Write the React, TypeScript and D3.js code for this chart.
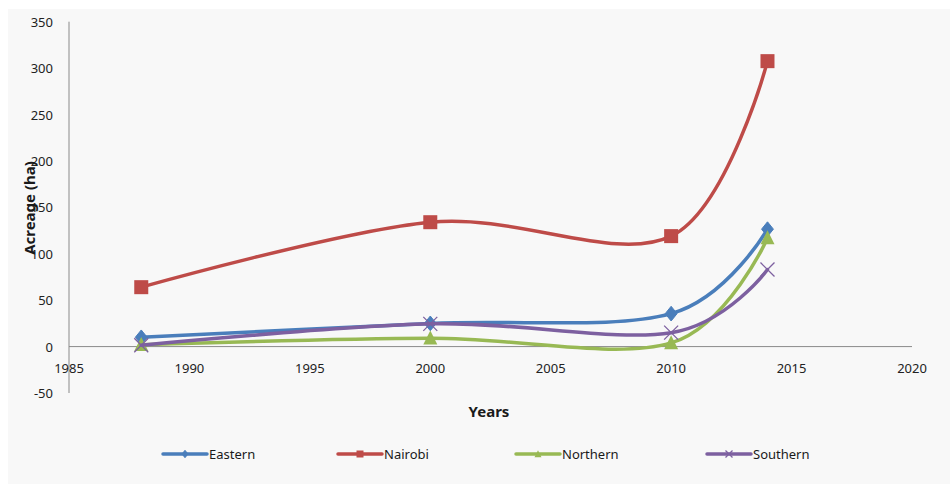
import React from "react";
import * as d3 from "d3";

// Acreage (ha) by region across survey years
const years = [1988, 2000, 2010, 2014];
const eastern = [10, 25, 35.5, 126.5];
const nairobi = [64, 134, 119, 307.5];
const northern = [2, 9, 4, 117];
const southern = [1.5, 24.5, 15, 83];

const seriesNames = ["Eastern", "Nairobi", "Northern", "Southern"];
const seriesColors = ["#4a7ebb", "#be4b48", "#98b954", "#7d60a0"];
const seriesMarkers = ["diamond", "square", "triangle", "cross"];
const seriesValues = [eastern, nairobi, northern, southern];

const yTicks = [-50, 0, 50, 100, 150, 200, 250, 300, 350];
const xTicks = [1985, 1990, 1995, 2000, 2005, 2010, 2015, 2020];

const W = 950;
const H = 484;
const FONT = "'Noto Sans', 'DejaVu Sans', sans-serif";

const x = d3.scaleLinear().domain([1985, 2020]).range([69, 912]);
const y = d3.scaleLinear().domain([-50, 350]).range([393, 21.7]);

const line = d3
  .line<[number, number]>()
  .x((d) => x(d[0]))
  .y((d) => y(d[1]))
  .curve(d3.curveCardinal.tension(0));

function Marker({ kind, cx, cy, color, s }: { kind: string; cx: number; cy: number; color: string; s: number }) {
  const h = s / 2;
  if (kind === "diamond") {
    return (
      <path
        d={`M${cx},${cy - h * 1.05} L${cx + h * 0.85},${cy} L${cx},${cy + h * 1.05} L${cx - h * 0.85},${cy} Z`}
        fill={color}
        stroke={color}
        strokeWidth={1}
      />
    );
  }
  if (kind === "square") {
    return <rect x={cx - h} y={cy - h} width={s} height={s} fill={color} />;
  }
  if (kind === "triangle") {
    return (
      <path
        d={`M${cx},${cy - h * 1.1} L${cx + h},${cy + h * 0.9} L${cx - h},${cy + h * 0.9} Z`}
        fill={color}
      />
    );
  }
  return (
    <path
      d={`M${cx - h},${cy - h} L${cx + h},${cy + h} M${cx + h},${cy - h} L${cx - h},${cy + h}`}
      stroke={color}
      strokeWidth={1.3}
      fill="none"
    />
  );
}

const legendX = [163, 338, 516, 707];
const legendY = 454;

export default function App() {
  return (
    <svg
      width={W}
      height={H}
      style={{ position: "absolute", left: 0, top: 0, display: "block" }}
      fontFamily={FONT}
    >
      <rect x={0} y={0} width={W} height={H} fill="#ffffff" />
      <rect x={8} y={9} width={W - 8} height={H - 9} fill="#f8f8f8" />

      {/* axes */}
      <line x1={x(1985)} x2={x(1985)} y1={y(350)} y2={y(-50)} stroke="#8a8a8a" strokeWidth={1} />
      <line x1={x(1985)} x2={x(2020)} y1={y(0)} y2={y(0)} stroke="#8a8a8a" strokeWidth={1} />

      {yTicks.map((t) => (
        <text
          key={`y${t}`}
          x={53}
          y={y(t)}
          textAnchor="end"
          dominantBaseline="central"
          fontSize={13}
          fill="#222222"
        >
          {t}
        </text>
      ))}
      {xTicks.map((t) => (
        <text
          key={`x${t}`}
          x={x(t)}
          y={368}
          textAnchor="middle"
          dominantBaseline="central"
          fontSize={13}
          fill="#222222"
        >
          {t}
        </text>
      ))}

      <text x={489} y={411} textAnchor="middle" dominantBaseline="central" fontSize={15} fontWeight="bold" fill="#1a1a1a">
        Years
      </text>
      <text
        transform={`translate(29,208) rotate(-90)`}
        textAnchor="middle"
        dominantBaseline="central"
        fontSize={15}
        fontWeight="bold"
        fill="#1a1a1a"
      >
        Acreage (ha)
      </text>

      {/* series */}
      {seriesValues.map((vals, i) => {
        const pts = years.map((yr, j) => [yr, vals[j]] as [number, number]);
        return (
          <g key={seriesNames[i]}>
            <path d={line(pts) || ""} fill="none" stroke={seriesColors[i]} strokeWidth={3.5} strokeLinejoin="round" strokeLinecap="round" />
            {pts.map((p, j) => (
              <Marker key={j} kind={seriesMarkers[i]} cx={x(p[0])} cy={y(p[1])} color={seriesColors[i]} s={14} />
            ))}
          </g>
        );
      })}

      {/* legend */}
      {seriesNames.map((name, i) => (
        <g key={`lg${name}`}>
          <line
            x1={legendX[i]}
            x2={legendX[i] + 44}
            y1={legendY}
            y2={legendY}
            stroke={seriesColors[i]}
            strokeWidth={3.5}
            strokeLinecap="round"
          />
          <Marker kind={seriesMarkers[i]} cx={legendX[i] + 22} cy={legendY} color={seriesColors[i]} s={7} />
          <text x={legendX[i] + 46} y={legendY} dominantBaseline="central" fontSize={13} fill="#1a1a1a">
            {name}
          </text>
        </g>
      ))}
    </svg>
  );
}
